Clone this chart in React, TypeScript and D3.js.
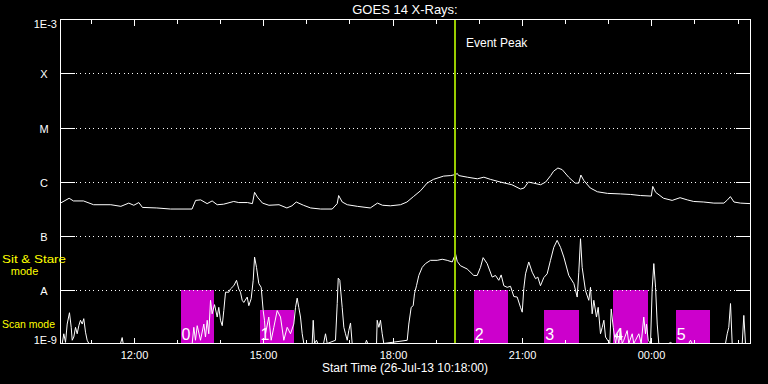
import * as d3 from "d3";

// start of plot: 26-Jul-2013 10:18:00 UT, 16 hours shown
const START = Date.UTC(2013, 6, 26, 10, 18);
const SPAN_MIN = 960;

// GOES 14 long channel, minutes after start / log10 flux (W/m^2)
const longMin = [0, 12, 18, 32, 46, 70, 84, 95, 102, 109, 114, 134, 153, 183, 188, 195, 204, 211, 218, 227, 241, 248, 260, 267, 270, 274, 281, 290, 304, 315, 322, 328, 338, 348, 362, 378, 385, 387, 392, 399, 413, 431, 441, 448, 459, 473, 482, 491, 501, 510, 519, 533, 543, 550, 552, 554, 566, 580, 589, 598, 612, 628, 640, 645, 651, 658, 668, 675, 682, 686, 692, 698, 707, 716, 721, 724, 728, 737, 747, 761, 779, 793, 807, 822, 824, 828, 839, 851, 862, 872, 881, 895, 909, 923, 928, 932, 937, 946, 960];
const longLog = [-6.40, -6.31, -6.36, -6.36, -6.43, -6.43, -6.46, -6.40, -6.44, -6.39, -6.48, -6.49, -6.51, -6.51, -6.35, -6.34, -6.41, -6.36, -6.43, -6.42, -6.37, -6.39, -6.39, -6.41, -6.20, -6.29, -6.40, -6.44, -6.43, -6.49, -6.45, -6.38, -6.44, -6.49, -6.51, -6.51, -6.41, -6.26, -6.38, -6.43, -6.46, -6.49, -6.40, -6.44, -6.45, -6.43, -6.38, -6.28, -6.17, -6.03, -5.96, -5.90, -5.89, -5.87, -5.85, -5.89, -5.92, -5.95, -5.92, -5.96, -6.01, -6.06, -6.14, -6.12, -6.01, -6.03, -6.06, -6.01, -5.89, -5.81, -5.75, -5.78, -5.92, -6.03, -6.03, -5.88, -5.98, -6.12, -6.19, -6.22, -6.23, -6.24, -6.26, -6.27, -6.09, -6.20, -6.31, -6.35, -6.30, -6.34, -6.37, -6.38, -6.40, -6.40, -6.34, -6.28, -6.38, -6.40, -6.41];

// GOES 14 short channel, minutes after start / log10 flux (W/m^2)
const shortMin = [0, 2.4, 4.6, 7, 9.3, 12.5, 14.9, 16.3, 18.5, 20.9, 23.2, 25.5, 27.8, 30.2, 32.4, 34.8, 37.1, 39.5, 83.5, 85.8, 87.2, 183.2, 185.5, 187.8, 190.2, 194.8, 199.4, 201.7, 204.1, 206.3, 208.7, 211, 214.3, 218, 220.2, 222.6, 225, 227.2, 229.6, 234.2, 236.5, 241.1, 244.9, 248, 250.4, 252.8, 255, 259.8, 262, 265.3, 268.1, 270, 272.7, 275.9, 279.2, 282, 283.8, 285.2, 289.8, 293.1, 296.8, 301.5, 306.1, 310.7, 315.4, 320, 324.6, 327, 329.3, 331.5, 333.9, 336.3, 338.5, 343.2, 350.2, 351.6, 353.4, 356.2, 358, 366, 368.7, 371.1, 382.6, 385, 386.4, 388.6, 391.9, 394.2, 396.5, 398.9, 401.1, 403.5, 405.8, 424.3, 425.7, 427.5, 439.7, 440.6, 442.9, 445.2, 447.6, 449.8, 482.4, 484.6, 487.9, 490.7, 492.5, 495.3, 498.5, 503.2, 507.8, 514.8, 524.1, 531.1, 538, 545, 549.6, 552, 556.5, 565.8, 575, 579.7, 584.3, 588, 593.6, 600.6, 605.2, 609.8, 613.1, 616.8, 621.5, 626.1, 630.7, 635.4, 640, 642.4, 644.6, 647, 651.5, 656.3, 660.9, 664.1, 667.8, 672.4, 677.1, 681.7, 686.3, 691, 695.7, 700.3, 707.2, 714.2, 718.9, 721.1, 723.5, 725.8, 730.4, 735, 737.4, 739.7, 742, 745.7, 748.1, 751.3, 753.7, 756, 758.3, 764.2, 766.2, 769, 772.2, 774.5, 776.8, 779.1, 781.5, 783.7, 788.4, 790.7, 795.4, 797.6, 800, 804.6, 807.9, 811.5, 813.9, 815.3, 817.7, 820.9, 823.2, 825.5, 827.9, 830.2, 832.4, 846.3, 848.7, 851, 874.1, 876.5, 878.9, 925.2, 927.6, 929.8, 932.2, 934.5, 948.5, 950.7, 953, 960];
const shortLog = [-9.1, -9.1, -8.82, -8.98, -8.64, -8.43, -8.70, -8.94, -8.88, -8.70, -8.82, -8.67, -8.57, -8.64, -8.54, -8.79, -8.94, -9.1, -9.1, -8.89, -9.1, -9.1, -8.70, -8.94, -8.67, -8.94, -8.64, -8.88, -8.57, -8.82, -8.20, -8.45, -8.28, -8.51, -8.33, -8.57, -8.67, -8.39, -8.05, -8.05, -7.99, -7.93, -7.83, -7.99, -8.05, -8.20, -8.24, -8.14, -8.30, -8.17, -7.83, -7.40, -7.59, -7.89, -7.96, -8.39, -8.57, -8.82, -8.51, -8.94, -8.70, -8.39, -8.51, -8.94, -8.70, -8.82, -8.64, -8.33, -8.16, -8.33, -8.51, -8.82, -9.1, -9.1, -9.1, -8.57, -9.1, -8.94, -9.1, -9.1, -8.82, -9.1, -8.94, -8.26, -7.79, -7.83, -8.33, -8.70, -8.82, -8.94, -8.76, -8.62, -9.1, -9.1, -8.94, -9.1, -9.1, -8.57, -8.70, -8.57, -8.82, -9.1, -8.94, -8.64, -8.33, -8.30, -8.08, -7.93, -7.74, -7.59, -7.52, -7.46, -7.46, -7.44, -7.46, -7.49, -7.34, -7.48, -7.56, -7.62, -7.74, -7.74, -7.59, -7.41, -7.52, -7.77, -7.74, -7.83, -7.73, -7.93, -7.96, -7.94, -8.13, -8.14, -8.33, -8.42, -7.98, -7.71, -7.49, -7.68, -7.80, -7.77, -7.93, -7.78, -7.71, -7.46, -7.22, -7.09, -7.22, -7.40, -7.74, -7.89, -8.14, -7.68, -7.06, -7.59, -8.02, -8.20, -7.96, -8.45, -8.20, -8.51, -8.33, -8.82, -8.70, -8.57, -8.88, -9.1, -8.36, -8.70, -9.1, -8.82, -9.1, -8.73, -9.1, -8.94, -8.76, -9.1, -8.82, -9.1, -8.94, -8.82, -9.1, -8.51, -8.82, -8.64, -8.94, -9.1, -7.99, -7.52, -7.96, -8.64, -9.1, -9.1, -8.98, -9.1, -9.1, -8.94, -9.1, -9.1, -8.82, -8.70, -8.26, -9.1, -9.1, -8.48, -9.1, -9.1];

// IRIS rasters: start / end minutes after start, observing mode
const rasterStart = [167, 277, 575, 673, 769, 856];
const rasterEnd = [214, 325, 622, 721, 818, 904];
const rasterMode = ["stare", "scan", "stare", "scan", "stare", "scan"];

const classLabels = ["X", "M", "C", "B", "A"];
const classFlux = [1e-4, 1e-5, 1e-6, 1e-7, 1e-8];
const eventPeakMin = 549;

const modeLevel: Record<string, number> = { stare: 1e-8, scan: 4.1e-9 };

const W = 768;
const H = 384;
const FONT = "'Liberation Sans', Arial, sans-serif";

const t = (m: number) => new Date(START + m * 60000);

export default function App() {
  const x = d3.scaleUtc().domain([t(0), t(SPAN_MIN)]).range([60.5, 750.5]);
  const y = d3.scaleLog().domain([1e-9, 1e-3]).range([343.5, 19.5]).clamp(true);

  const mkPath = (mins: number[], logs: number[]) =>
    d3
      .line<number>()
      .x((d) => x(t(d)))
      .y((_, i) => y(Math.pow(10, logs[i])))(mins) ?? "";

  const hours = x.ticks(d3.utcHour.every(1)!);
  const fmt = d3.utcFormat("%H:%M");
  const left = x.range()[0];
  const right = x.range()[1];
  const top = y.range()[1];
  const bottom = y.range()[0];
  const peakX = Math.round(x(t(eventPeakMin)));

  return (
    <div style={{ position: "fixed", left: 0, top: 0, width: W, height: H, background: "#000" }}>
      <svg width={W} height={H} style={{ display: "block", background: "#000" }} fontFamily={FONT}>
        {/* raster boxes */}
        {rasterStart.map((s, i) => {
          const x0 = x(t(s));
          const x1 = x(t(rasterEnd[i]));
          const yt = y(modeLevel[rasterMode[i]]);
          return (
            <g key={"r" + i}>
              <rect x={x0} y={yt} width={x1 - x0} height={bottom - yt} fill="#cc00cc" shapeRendering="crispEdges" />
              <text x={x0 + 1} y={339.5} fill="#fff" fontSize={16}>
                {i}
              </text>
            </g>
          );
        })}

        {/* class grid */}
        {classFlux.map((f, i) => {
          const yy = Math.round(y(f)) + 0.5;
          return (
            <g key={"c" + i} shapeRendering="crispEdges">
              <line x1={76} x2={736} y1={yy} y2={yy} stroke="#fff" strokeDasharray="1 3.33" />
              <line x1={left} x2={75} y1={yy} y2={yy} stroke="#fff" />
              <line x1={736} x2={right} y1={yy} y2={yy} stroke="#fff" />
              <text x={44} y={yy + 4} fill="#fff" fontSize={11} textAnchor="middle">
                {classLabels[i]}
              </text>
            </g>
          );
        })}

        {/* time ticks */}
        {hours.map((h, i) => {
          const xx = Math.round(x(h)) + 0.5;
          const major = h.getUTCHours() % 3 === 0;
          const len = major ? 6 : 4;
          return (
            <g key={"h" + i} shapeRendering="crispEdges">
              <line x1={xx} x2={xx} y1={top} y2={top + len} stroke="#fff" />
              <line x1={xx} x2={xx} y1={bottom} y2={bottom - len} stroke="#fff" />
              {major && (
                <text x={xx} y={359} fill="#fff" fontSize={11} textAnchor="middle">
                  {fmt(h)}
                </text>
              )}
            </g>
          );
        })}

        {/* flux curves */}
        <path d={mkPath(longMin, longLog)} fill="none" stroke="#fff" strokeWidth={1} strokeLinejoin="round" />
        <path d={mkPath(shortMin, shortLog)} fill="none" stroke="#fff" strokeWidth={1} strokeLinejoin="round" />

        {/* event peak */}
        <line x1={peakX} x2={peakX} y1={top} y2={bottom} stroke="#99cc00" strokeWidth={2} shapeRendering="crispEdges" />
        <text x={peakX + 11} y={47} fill="#fff" fontSize={12}>
          Event Peak
        </text>

        {/* frame */}
        <rect x={left} y={top} width={right - left} height={bottom - top} fill="none" stroke="#fff" shapeRendering="crispEdges" />

        {/* axis labels */}
        <text x={57} y={27.5} fill="#fff" fontSize={11} textAnchor="end">1E-3</text>
        <text x={57} y={343.5} fill="#fff" fontSize={11} textAnchor="end">1E-9</text>
        <text x={405} y={14} fill="#fff" fontSize={13} textAnchor="middle">GOES 14 X-Rays:</text>
        <text x={405} y={372} fill="#fff" fontSize={12} textAnchor="middle">Start Time (26-Jul-13 10:18:00)</text>

        <text x={2} y={262.5} fill="#ffff00" fontSize={11} textLength={64} lengthAdjust="spacingAndGlyphs">Sit &amp; Stare</text>
        <text x={24.5} y={275} fill="#ffff00" fontSize={11} textAnchor="middle">mode</text>
        <text x={2} y={328} fill="#ffff00" fontSize={11} textLength={53} lengthAdjust="spacingAndGlyphs">Scan mode</text>
      </svg>
    </div>
  );
}
